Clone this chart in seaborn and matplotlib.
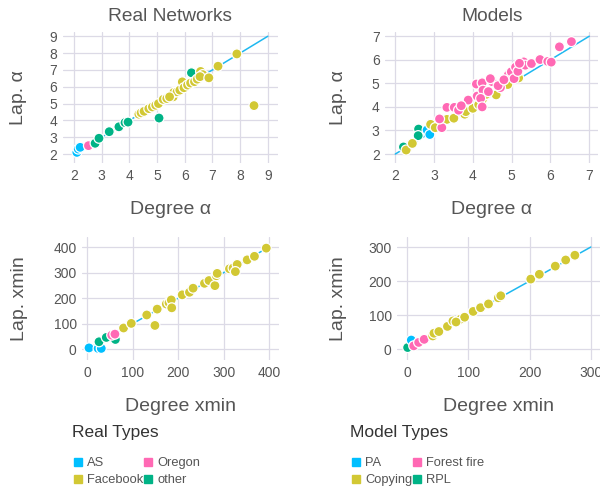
import matplotlib
matplotlib.use("Agg")
import matplotlib.pyplot as plt
import seaborn as sns
import pandas as pd
from matplotlib.lines import Line2D

sns.set_theme(style="whitegrid")
plt.rcParams['font.family'] = ['Liberation Sans', 'DejaVu Sans']

# --- data ---
real_alpha_type = (["AS"] * 3 + ["Oregon"] + ["other"] * 8 + ["Facebook"] * 27)
real_alpha_deg = [2.1, 2.15, 2.22, 2.52,
                  2.76, 2.9, 3.27, 3.62, 3.84, 3.95, 5.07, 6.24,
                  4.34, 4.42, 4.53, 4.7, 4.83, 4.95, 5.05, 5.22, 5.35, 5.58,
                  5.6, 5.72, 5.82, 5.91, 5.97, 6.1, 6.21, 6.35, 6.45, 6.57,
                  6.65, 6.55, 6.87, 7.2, 7.88, 8.5, 5.45]
real_alpha_lap = [2.1, 2.3, 2.4, 2.5,
                  2.64, 2.94, 3.33, 3.62, 3.87, 3.9, 4.14, 6.83,
                  4.37, 4.45, 4.54, 4.7, 4.8, 4.9, 5.0, 5.25, 5.3, 5.4,
                  5.66, 5.7, 5.8, 6.29, 5.94, 6.1, 6.22, 6.3, 6.45, 6.91,
                  6.72, 6.6, 6.53, 7.22, 7.95, 4.88, 5.4]

model_alpha_type = (["RPL"] * 3 + ["PA"] * 2 + ["Copying"] * 15 + ["Forest fire"] * 33)
model_alpha_deg = [2.21, 2.6, 2.59,
                   2.82, 2.89,
                   2.28, 2.44, 2.91, 3.03, 3.33, 3.51, 3.79, 3.82, 4.0, 4.24,
                   4.34, 4.6, 4.9, 5.18, 4.15,
                   3.2, 3.14, 3.33, 3.52, 3.63, 3.88, 4.11, 4.09, 4.24, 4.26,
                   4.2, 4.24, 4.5, 4.45, 4.71, 4.91, 4.99, 5.06, 5.1, 5.16,
                   5.31, 5.35, 5.51, 5.73, 5.93, 6.02, 6.23, 6.54, 4.65, 4.8,
                   4.4, 3.7, 5.2]
model_alpha_lap = [2.3, 3.06, 2.78,
                   3.02, 2.83,
                   2.17, 2.45, 3.26, 3.12, 3.47, 3.52, 3.69, 3.8, 3.94, 4.29,
                   4.53, 4.51, 4.95, 5.23, 4.1,
                   3.12, 3.49, 3.98, 3.98, 3.86, 4.29, 4.46, 4.97, 5.02, 4.71,
                   4.36, 4.0, 5.07, 5.2, 4.82, 5.35, 5.49, 5.2, 5.69, 5.51,
                   5.91, 5.77, 5.84, 6.01, 5.93, 5.9, 6.55, 6.77, 4.9, 5.15,
                   4.65, 4.05, 5.85]

real_xmin_type = (["AS"] * 3 + ["other"] * 3 + ["Oregon"] * 2 + ["Facebook"] * 24)
real_xmin_deg = [4, 24, 31,
                 26, 42, 62,
                 54, 61,
                 80, 97, 131, 149, 154, 174, 180, 185, 186, 209, 225, 233,
                 258, 268, 281, 284, 286, 313, 321, 330, 326, 352, 368, 394]
real_xmin_lap = [5, 3, 3,
                 29, 46, 38,
                 55, 59,
                 83, 101, 134, 93, 157, 177, 182, 193, 162, 213, 223, 239,
                 258, 269, 249, 288, 297, 315, 318, 332, 304, 350, 364, 396]

model_xmin_type = (["RPL"] + ["PA"] + ["Forest fire"] * 3 + ["Copying"] * 18)
model_xmin_deg = [1, 7, 11, 19, 28,
                  42, 44, 52, 66, 75, 87, 94, 108, 120, 133, 149, 153,
                  202, 216, 242, 259, 274, 80]
model_xmin_lap = [5, 27, 10, 20, 29,
                  39, 47, 52, 67, 83, 88, 94, 111, 122, 133, 151, 157,
                  206, 220, 244, 262, 276, 80]

real_types = ["AS", "Oregon", "Facebook", "other"]
model_types = ["PA", "Forest fire", "Copying", "RPL"]
type_colors = ["#00BFFF", "#FF69B4", "#D2C834", "#00B386"]
real_pal = dict(zip(real_types, type_colors))
model_pal = dict(zip(model_types, type_colors))

TXT = "#555555"
GRID = "#DCDAE6"

fig = plt.figure(figsize=(6, 4.88), dpi=100)


def panel(rect, deg, lap, kind, pal, order, lim, xlim, ylim, ticks,
          xlabel, ylabel, title=None, ypad=12):
    ax = fig.add_axes(rect)
    ax.plot([lim[0], lim[1]], [lim[0], lim[1]], color="#1EB8F0", lw=1.1, zorder=1)
    df = pd.DataFrame({"deg": deg, "lap": lap, "kind": kind})
    sns.scatterplot(data=df, x="deg", y="lap", hue="kind", hue_order=order,
                    palette=pal, s=52, edgecolor="white", linewidth=0.9,
                    legend=False, ax=ax, zorder=3)
    ax.set_xlim(*xlim)
    ax.set_ylim(*ylim)
    ax.set_xticks(ticks)
    ax.set_yticks(ticks)
    ax.grid(True, color=GRID, lw=0.9)
    for s in ax.spines.values():
        s.set_visible(False)
    ax.tick_params(length=0, labelsize=10, colors=TXT, pad=4)
    ax.set_xlabel(xlabel, fontsize=14, color=TXT, labelpad=13)
    ax.set_ylabel(ylabel, fontsize=14, color=TXT, labelpad=ypad)
    if title:
        ax.set_title(title, fontsize=13.8, color=TXT, pad=8)
    return ax


panel([0.105, 0.666, 0.358, 0.268], real_alpha_deg, real_alpha_lap, real_alpha_type,
      real_pal, real_types, (2, 9), (1.60, 9.36), (1.47, 9.24), range(2, 10),
      "Degree α", "Lap. α", "Real Networks", ypad=16)
panel([0.642, 0.666, 0.355, 0.268], model_alpha_deg, model_alpha_lap, model_alpha_type,
      model_pal, model_types, (2, 7), (1.74, 7.23), (1.62, 7.17), range(2, 8),
      "Degree α", "Lap. α", "Models", ypad=18)
panel([0.137, 0.262, 0.328, 0.252], real_xmin_deg, real_xmin_lap, real_xmin_type,
      real_pal, real_types, (0, 400), (-11, 422), (-43, 439), range(0, 401, 100),
      "Degree xmin", "Lap. xmin", ypad=18)
panel([0.662, 0.262, 0.338, 0.252], model_xmin_deg, model_xmin_lap, model_xmin_type,
      model_pal, model_types, (0, 300), (-16, 315), (-32, 329), range(0, 301, 100),
      "Degree xmin", "Lap. xmin", ypad=15)


def legend(x, title, labels, colors):
    fig.text(x / 600, 1 - 432 / 488, title, fontsize=12.5, color="#333333",
             ha="left", va="center")
    # legend fills column-wise: reorder so rows read (0, 1), (2, 3)
    idx = [0, 2, 1, 3]
    handles = [Line2D([], [], marker="s", ls="", color=colors[i], markersize=6.2)
               for i in idx]
    fig.legend(handles, [labels[i] for i in idx], loc="upper left",
               bbox_to_anchor=(x / 600 - 0.012, 1 - 448 / 488), ncol=2,
               frameon=False, fontsize=9.3, handlelength=0.7,
               handletextpad=0.35, columnspacing=0.0, labelspacing=0.4,
               borderpad=0.2, labelcolor=TXT)


legend(72, "Real Types", real_types, type_colors)
legend(350, "Model Types", model_types, type_colors)

fig.savefig("out.png", dpi=100)
